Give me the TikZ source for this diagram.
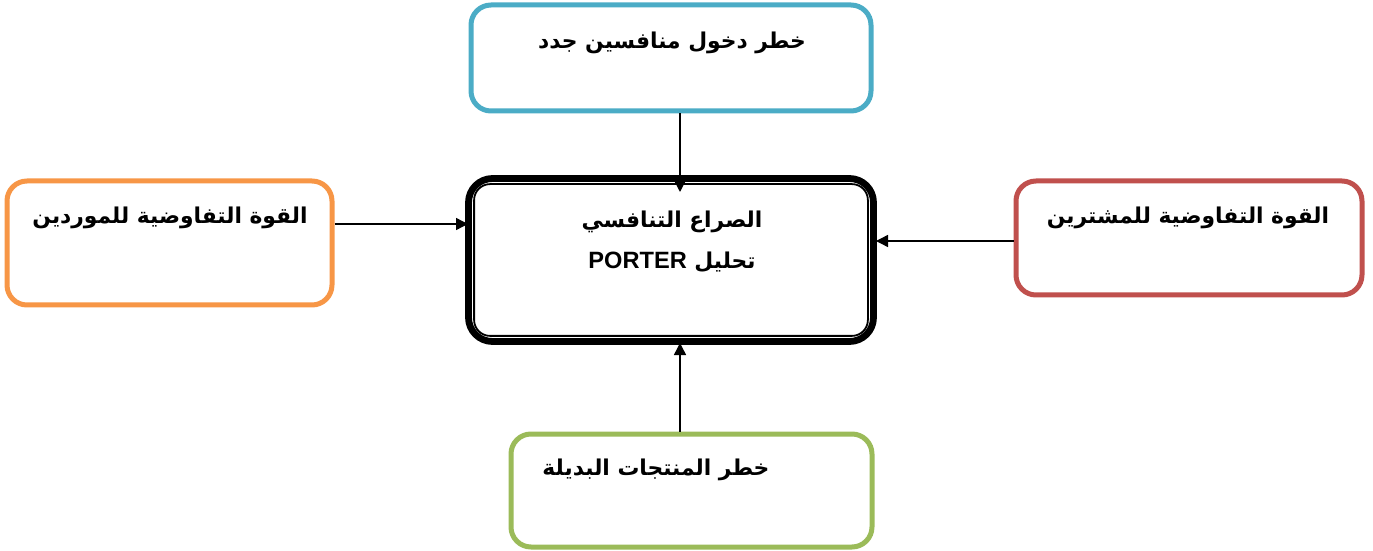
\documentclass[tikz,border=0pt]{standalone}
\usepackage{fontspec}
\setmainfont{Liberation Sans}
\newfontfamily\arabicfont[Script=Arabic]{DejaVu Sans}
\TeXXeTstate=1
\usetikzlibrary{arrows.meta}
\definecolor{cblue}{HTML}{4BACC6}
\definecolor{corange}{HTML}{F79646}
\definecolor{cred}{HTML}{C0504D}
\definecolor{cgreen}{HTML}{9BBB59}
\tikzset{
  box/.style={draw, line width=2.5pt, rounded corners=10pt, fill=white, inner sep=0pt},
  lbl/.style={font=\arabicfont\bfseries\fontsize{10.9}{13}\selectfont, inner sep=0pt, align=center},
  arr/.style={line width=0.7pt, -{Triangle[length=6pt,width=6pt]}}
}
\begin{document}
\begin{tikzpicture}[x=0.5pt,y=-0.5pt]
\useasboundingbox (0,0) rectangle (1373,551);
% boxes
\node[box, draw=cblue, minimum width=200pt, minimum height=53pt] (top) at (671,58) {};
\node[box, draw=corange, minimum width=162.5pt, minimum height=62pt] (left) at (169.5,243) {};
\node[box, draw=cred, minimum width=173pt, minimum height=57pt] (right) at (1189,238) {};
\node[box, draw=cgreen, minimum width=180.5pt, minimum height=56.5pt] (bottom) at (691.5,490.5) {};
\node[draw, line width=3.4pt, rounded corners=12pt, minimum width=202.5pt, minimum height=81.5pt, inner sep=0pt] (center) at (671,260) {};
\draw[line width=0.9pt, rounded corners=8pt] ([shift={(4.5pt,-4.5pt)}]center.north west) rectangle ([shift={(-4.5pt,4.5pt)}]center.south east);
% labels
\node[lbl] (ttop) at (672,43) {\beginR خطر دخول منافسين جدد\endR};
\node[lbl] (tleft) at (170,218) {\beginR القوة التفاوضية للموردين\endR};
\node[lbl] (tright) at (1188,218) {\beginR القوة التفاوضية للمشترين\endR};
\node[lbl] (tbottom) at (656,470) {\beginR خطر المنتجات البديلة\endR};
\node[lbl] (tc1) at (672,222) {\beginR الصراع التنافسي\endR};
\node[lbl] (tc2) at (672,262) {\beginR تحليل \beginL{\fontsize{11.8}{14}\selectfont\rmfamily\bfseries PORTER}\endL\endR};
% connectors
\coordinate (aT) at (680,192);
\coordinate (aL) at (468,224);
\coordinate (aR) at (876,241);
\coordinate (aB) at (680,343);
\draw[arr] (top.south -| aT) -- (aT);
\draw[arr] (left.east |- aL) -- (aL);
\draw[arr] (right.west |- aR) -- (aR);
\draw[arr] (bottom.north -| aB) -- (aB);
\end{tikzpicture}
\end{document}
